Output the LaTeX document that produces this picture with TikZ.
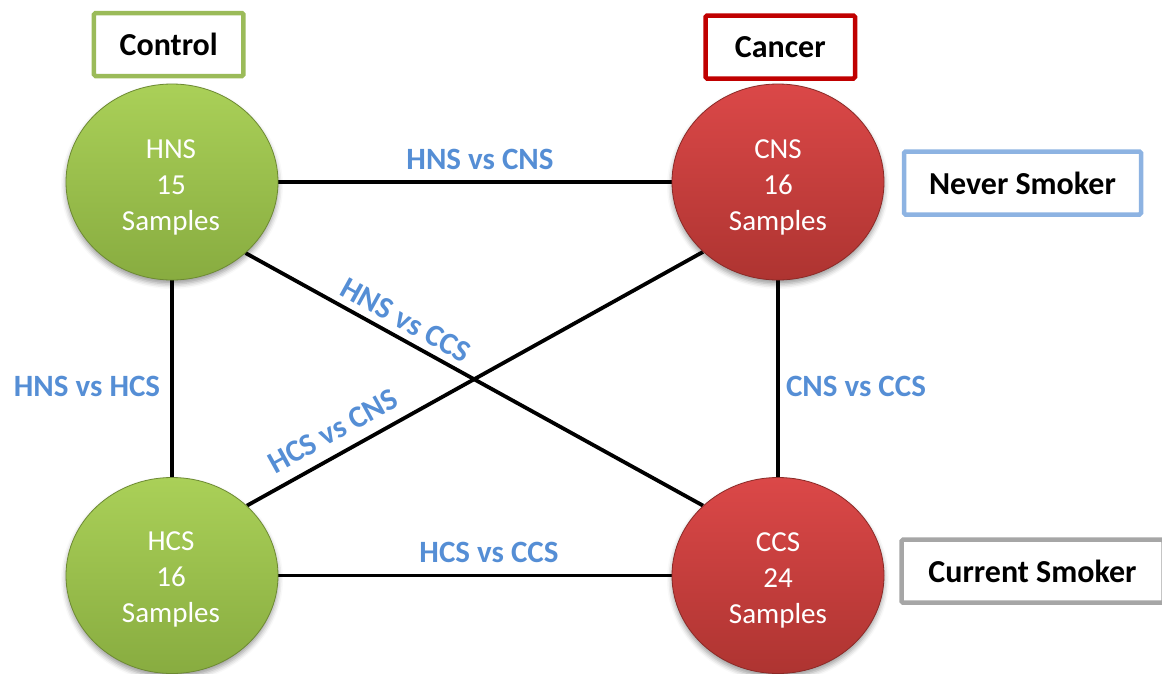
\documentclass[tikz,border=0pt]{standalone}
\usepackage{fontspec}
\setmainfont{Carlito}
\usetikzlibrary{shapes.geometric,shadows.blur,backgrounds}
\definecolor{gtop}{HTML}{AAD058}
\definecolor{gbot}{HTML}{88AC40}
\definecolor{rtop}{HTML}{DB4848}
\definecolor{rbot}{HTML}{AE3431}
\definecolor{lblue}{HTML}{558ED5}
\definecolor{bgreen}{HTML}{9BBB59}
\definecolor{bred}{HTML}{C00000}
\definecolor{bblue}{HTML}{8DB3E2}
\definecolor{bgray}{HTML}{A6A6A6}
\begin{document}
\begin{tikzpicture}[x=1pt,y=-1pt,
  bubble/.style={ellipse, minimum width=212pt, minimum height=196pt, inner sep=0pt,
    blur shadow={shadow xshift=0pt, shadow yshift=-4pt, shadow blur radius=5pt, shadow opacity=40}},
  gbub/.style={bubble, top color=gtop, bottom color=gbot, draw=gbot!80!black, line width=0.8pt},
  rbub/.style={bubble, top color=rtop, bottom color=rbot, draw=rbot!80!black, line width=0.8pt},
  ctext/.style={text=white, align=center, font=\fontsize{29}{36}\selectfont, inner sep=0pt},
  tag/.style={draw=#1, line width=4.5pt, rounded corners=1.5pt, fill=white,
    minimum height=63pt, inner sep=0pt, font=\fontsize{32}{36}\selectfont\bfseries},
  link/.style={line width=3.8pt, black},
  lab/.style={text=lblue, font=\fontsize{31}{36}\selectfont\bfseries, inner sep=0pt}]
\useasboundingbox (0,0) rectangle (1162,673);

% bubbles
\node[gbub] (hns) at (172,182) {};
\node[rbub] (cns) at (778,182) {};
\node[gbub] (hcs) at (172,575.5) {};
\node[rbub] (ccs) at (778,575.5) {};
\node[ctext] (hnst) at (171,187) {HNS\\15\\Samples};
\node[ctext] (cnst) at (778,187) {CNS\\16\\Samples};
\node[ctext] (hcst) at (171,579.5) {HCS\\16\\Samples};
\node[ctext] (ccst) at (778,580) {CCS\\24\\Samples};

% links
\begin{scope}[on background layer]
\draw[link] (hns.east) -- (cns.west);
\draw[link] (hcs.east) -- (ccs.west);
\draw[link] (hns.south) -- (hcs.north);
\draw[link] (cns.south) -- (ccs.north);
\draw[link] (hns.-44) -- (ccs.137);
\draw[link] (hcs.43) -- (cns.-137);
\end{scope}

% link labels
\node[lab, anchor=base] (l1) at (480,169) {HNS vs CNS};
\node[lab, anchor=base] (l2) at (87,396) {HNS vs HCS};
\node[lab, anchor=base] (l3) at (856,396) {CNS vs CCS};
\node[lab, anchor=base] (l4) at (489,562) {HCS vs CCS};
\node[lab, rotate=-29] (l5) at (406,320) {HNS vs CCS};
\node[lab, rotate=29] (l6) at (333,431) {HCS vs CNS};

% tags
\node[tag=bgreen, minimum width=149.5pt] (control) at (168.7,44.5) {Control};
\node[tag=bred, minimum width=149.5pt] (cancer) at (780.3,47) {Cancer};
\node[tag=bblue, minimum width=237pt] (never) at (1022.5,183) {Never Smoker};
\node[tag=bgray, minimum width=262pt] (current) at (1032.5,571.2) {Current Smoker};
\end{tikzpicture}
\end{document}
